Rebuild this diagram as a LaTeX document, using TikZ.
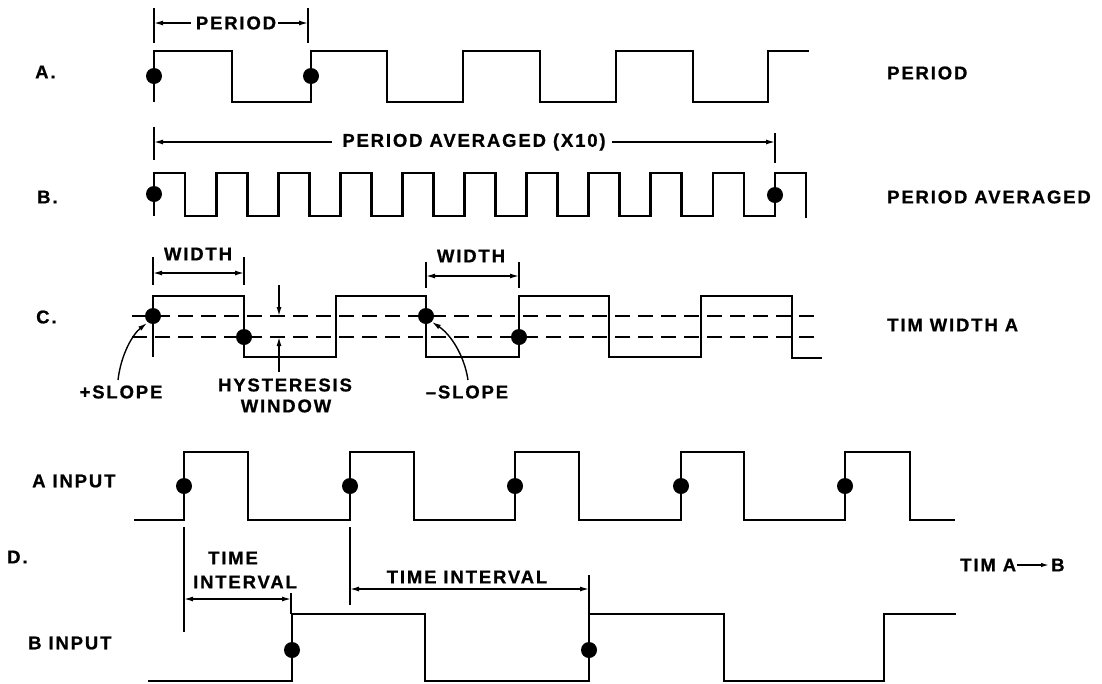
\documentclass[tikz,border=0pt]{standalone}
\usepackage{fontspec}
\setmainfont{Liberation Sans}[LetterSpace=10,BoldFeatures={FakeBold=0.8}]
\usetikzlibrary{arrows.meta}
\begin{document}
\begin{tikzpicture}[x=1pt,y=-1pt,
  font=\fontsize{18.5}{20}\selectfont\bfseries,
  wave/.style={line width=2.8pt,line join=miter},
  dim/.style={line width=1.4pt},
  tip/.tip={Latex[length=9pt,width=5pt]},
  both/.style={dim,tip-tip},
  one/.style={dim,-tip},
  dashln/.style={line width=2.2pt,dash pattern=on 15pt off 8pt},
  dotc/.style={circle,fill,inner sep=0pt,minimum size=16pt},
  lbl/.style={inner sep=0pt,anchor=west},
  txt/.style={inner sep=0pt}]
\useasboundingbox (0,0) rectangle (1102,683);

% ---------- labels ----------
\node[lbl] (la) at (35,72) {A.};
\node[lbl] (lb) at (37,197) {B.};
\node[lbl] (lc) at (36,317) {C.};
\node[lbl] (lai) at (32,481) {A INPUT};
\node[lbl] (ld) at (7,557) {D.};
\node[lbl] (lbi) at (28,643) {B INPUT};
\node[lbl] (ra) at (887,73) {PERIOD};
\node[lbl] (rb) at (887,197) {PERIOD AVERAGED};
\node[lbl] (rc) at (887,325) {TIM WIDTH A};
\node[lbl] (rd) at (960,565) {TIM A};
\node[lbl] (rdb) at (1051,565) {B};
\draw[dim,-{Latex[length=8pt,width=4.5pt]}] ([xshift=1pt]rd.east) -- ([xshift=-2pt]rdb.west);

% ---------- A. PERIOD ----------
\draw[wave] (154,102) -- (154,51) -- (232,51) -- (232,102) -- (311,102) -- (311,51)
  -- (387,51) -- (387,102) -- (463,102) -- (463,51) -- (540,51) -- (540,102)
  -- (616,102) -- (616,51) -- (693,51) -- (693,102) -- (768,102) -- (768,51) -- (809,51);
\node[dotc] (da1) at (154,76) {};
\node[dotc] (da2) at (311,76) {};
\coordinate (pt1a) at (154,8); \coordinate (pt1b) at (154,43);
\coordinate (pt2a) at (308,8); \coordinate (pt2b) at (308,43);
\draw[dim] (pt1a) -- (pt1b); \draw[dim] (pt2a) -- (pt2b);
\node[txt] (tper) at (236,23) {PERIOD};
\coordinate (pL) at (154,23); \coordinate (pR) at (308,23);
\draw[one] ([xshift=-5pt]tper.west) -- (pL);
\draw[one] ([xshift=2pt]tper.east) -- (pR);

% ---------- B. PERIOD AVERAGED ----------
\draw[wave] (154,216) -- (154,173)
  -- (185,173) -- (185,216) -- (216.1,216) -- (216.1,173)
  -- (247.1,173) -- (247.1,216) -- (278.2,216) -- (278.2,173)
  -- (309.2,173) -- (309.2,216) -- (340.3,216) -- (340.3,173)
  -- (371.3,173) -- (371.3,216) -- (402.4,216) -- (402.4,173)
  -- (433.4,173) -- (433.4,216) -- (464.5,216) -- (464.5,173)
  -- (495.5,173) -- (495.5,216) -- (526.6,216) -- (526.6,173)
  -- (557.6,173) -- (557.6,216) -- (588.7,216) -- (588.7,173)
  -- (619.7,173) -- (619.7,216) -- (650.8,216) -- (650.8,173)
  -- (681.8,173) -- (681.8,216) -- (712.9,216) -- (712.9,173)
  -- (743.9,173) -- (743.9,216) -- (775,216) -- (775,173)
  -- (806,173) -- (806,218);
\node[dotc] (db1) at (154,194) {};
\node[dotc] (db2) at (775,195) {};
\coordinate (qt1a) at (154,127); \coordinate (qt1b) at (154,160);
\coordinate (qt2a) at (775,133); \coordinate (qt2b) at (775,163);
\draw[dim] (qt1a) -- (qt1b); \draw[dim] (qt2a) -- (qt2b);
\node[txt] (tpa) at (474,142) {PERIOD AVERAGED (X10)};
\coordinate (qL) at (154,142); \coordinate (qR) at (775,142);
\draw[one] ([xshift=-10pt]tpa.west) -- (qL);
\draw[one] ([xshift=6pt]tpa.east) -- (qR);

% ---------- C. TIM WIDTH A ----------
\draw[dashln] (132,316) -- (817,316);
\draw[dashln] (132,337) -- (817,337);
\draw[wave] (153,357) -- (153,296) -- (244,296) -- (244,357) -- (336,357) -- (336,296)
  -- (426,296) -- (426,357) -- (519,357) -- (519,296) -- (609,296) -- (609,357)
  -- (701,357) -- (701,296) -- (792,296) -- (792,358) -- (822,358);
\node[dotc] (dc1) at (153,316) {};
\node[dotc] (dc2) at (244,337) {};
\node[dotc] (dc3) at (426,316) {};
\node[dotc] (dc4) at (519,337) {};
% width 1
\coordinate (w1a) at (153,257); \coordinate (w1b) at (153,285);
\coordinate (w2a) at (244,257); \coordinate (w2b) at (244,285);
\draw[dim] (w1a) -- (w1b); \draw[dim] (w2a) -- (w2b);
\coordinate (w1m) at (153,273); \coordinate (w2m) at (244,273);
\draw[both] (w1m) -- (w2m);
\node[txt] (tw1) at (198,254) {WIDTH};
% width 2
\coordinate (w3a) at (426,262); \coordinate (w3b) at (426,288);
\coordinate (w4a) at (519,262); \coordinate (w4b) at (519,288);
\draw[dim] (w3a) -- (w3b); \draw[dim] (w4a) -- (w4b);
\coordinate (w3m) at (426,276); \coordinate (w4m) at (519,276);
\draw[both] (w3m) -- (w4m);
\node[txt] (tw2) at (471,256) {WIDTH};
% hysteresis
\coordinate (h1) at (279,285); \coordinate (h1e) at (279,316);
\coordinate (h2) at (279,372); \coordinate (h2e) at (279,337);
\draw[one] (h1) -- (h1e);
\draw[one] (h2) -- (h2e);
\node[txt] (thy) at (285,385) {HYSTERESIS};
\node[txt] (twi) at (286,406) {WINDOW};
% slopes
\node[txt] (tps) at (121,392) {+SLOPE};
\node[txt] (tms) at (467,392) {–SLOPE};
\coordinate (ps0) at (118,380); \coordinate (ps1) at (147,323);
\draw[one] (ps0) .. controls (121,354) and (133,334) .. (ps1);
\coordinate (ms0) at (468,380); \coordinate (ms1) at (432,322);
\draw[one] (ms0) .. controls (464,354) and (450,334) .. (ms1);

% ---------- D. A INPUT / B INPUT ----------
\draw[wave] (134,520) -- (184,520) -- (184,452) -- (248,452) -- (248,520)
  -- (350,520) -- (350,452) -- (414,452) -- (414,520)
  -- (515,520) -- (515,452) -- (579,452) -- (579,520)
  -- (681,520) -- (681,452) -- (744,452) -- (744,520)
  -- (845,520) -- (845,452) -- (910,452) -- (910,520) -- (955,520);
\node[dotc] (dd1) at (184,486) {};
\node[dotc] (dd2) at (350,486) {};
\node[dotc] (dd3) at (515,486) {};
\node[dotc] (dd4) at (681,486) {};
\node[dotc] (dd5) at (845,486) {};
\draw[wave] (148,681) -- (292,681) -- (292,614) -- (425,614) -- (425,681)
  -- (589,681) -- (589,614) -- (724,614) -- (724,681)
  -- (884,681) -- (884,614) -- (956,614);
\node[dotc] (de1) at (292,650) {};
\node[dotc] (de2) at (589,650) {};
% time interval 1
\coordinate (t1a) at (184,527); \coordinate (t1b) at (184,632);
\coordinate (t2a) at (291,593); \coordinate (t2b) at (291,614);
\draw[dim] (t1a) -- (t1b); \draw[dim] (t2a) -- (t2b);
\coordinate (t1m) at (184,599); \coordinate (t2m) at (291,599);
\draw[both] (t1m) -- (t2m);
\node[txt] (tti) at (233,558) {TIME};
\node[txt] (tin) at (245,582) {INTERVAL};
% time interval 2
\coordinate (t3a) at (350,527); \coordinate (t3b) at (350,605);
\coordinate (t4a) at (589,575); \coordinate (t4b) at (589,614);
\draw[dim] (t3a) -- (t3b); \draw[dim] (t4a) -- (t4b);
\coordinate (t3m) at (350,589); \coordinate (t4m) at (589,589);
\draw[both] (t3m) -- (t4m);
\node[txt] (tti2) at (467,577) {TIME INTERVAL};
\end{tikzpicture}
\end{document}
